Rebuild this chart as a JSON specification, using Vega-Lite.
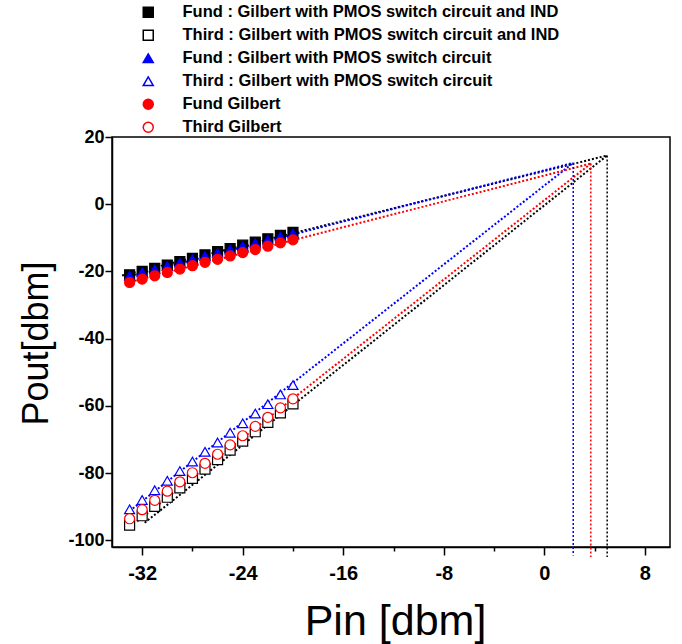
{
  "$schema": "https://vega.github.io/schema/vega-lite/v6.json",
  "width": 558,
  "height": 410,
  "autosize": {"type": "none"},
  "padding": {"left": 112, "top": 137, "right": 12, "bottom": 97},
  "background": "white",
  "config": {
    "view": {"stroke": "#000000", "strokeWidth": 1.5},
    "font": "Liberation Sans"
  },
  "datasets": {
    "names": [
      {"s": "fi", "series": "Fund : Gilbert with PMOS switch circuit and IND"},
      {"s": "ti", "series": "Third : Gilbert with PMOS switch circuit and IND"},
      {"s": "fp", "series": "Fund : Gilbert with PMOS switch circuit"},
      {"s": "tp", "series": "Third : Gilbert with PMOS switch circuit"},
      {"s": "fg", "series": "Fund Gilbert"},
      {"s": "tg", "series": "Third Gilbert"}
    ],
    "pts": [
      {"s":"fi","x":-33,"y":-21.0},{"s":"fi","x":-32,"y":-20.0},{"s":"fi","x":-31,"y":-19.1},{"s":"fi","x":-30,"y":-18.1},{"s":"fi","x":-29,"y":-17.1},{"s":"fi","x":-28,"y":-16.1},{"s":"fi","x":-27,"y":-15.1},{"s":"fi","x":-26,"y":-14.1},{"s":"fi","x":-25,"y":-13.2},{"s":"fi","x":-24,"y":-12.2},{"s":"fi","x":-23,"y":-11.3},{"s":"fi","x":-22,"y":-10.3},{"s":"fi","x":-21,"y":-9.3},{"s":"fi","x":-20,"y":-8.4},
      {"s":"ti","x":-33,"y":-95.5},{"s":"ti","x":-32,"y":-92.7},{"s":"ti","x":-31,"y":-89.9},{"s":"ti","x":-30,"y":-87.2},{"s":"ti","x":-29,"y":-84.4},{"s":"ti","x":-28,"y":-81.6},{"s":"ti","x":-27,"y":-78.8},{"s":"ti","x":-26,"y":-76.0},{"s":"ti","x":-25,"y":-73.2},{"s":"ti","x":-24,"y":-70.5},{"s":"ti","x":-23,"y":-67.7},{"s":"ti","x":-22,"y":-64.9},{"s":"ti","x":-21,"y":-62.1},{"s":"ti","x":-20,"y":-59.4},
      {"s":"fp","x":-33,"y":-21.3},{"s":"fp","x":-32,"y":-20.3},{"s":"fp","x":-31,"y":-19.4},{"s":"fp","x":-30,"y":-18.4},{"s":"fp","x":-29,"y":-17.4},{"s":"fp","x":-28,"y":-16.4},{"s":"fp","x":-27,"y":-15.4},{"s":"fp","x":-26,"y":-14.5},{"s":"fp","x":-25,"y":-13.5},{"s":"fp","x":-24,"y":-12.5},{"s":"fp","x":-23,"y":-11.6},{"s":"fp","x":-22,"y":-10.6},{"s":"fp","x":-21,"y":-9.6},{"s":"fp","x":-20,"y":-8.7},
      {"s":"tp","x":-33,"y":-90.8},{"s":"tp","x":-32,"y":-88.0},{"s":"tp","x":-31,"y":-85.1},{"s":"tp","x":-30,"y":-82.3},{"s":"tp","x":-29,"y":-79.4},{"s":"tp","x":-28,"y":-76.6},{"s":"tp","x":-27,"y":-73.7},{"s":"tp","x":-26,"y":-70.9},{"s":"tp","x":-25,"y":-68.0},{"s":"tp","x":-24,"y":-65.2},{"s":"tp","x":-23,"y":-62.3},{"s":"tp","x":-22,"y":-59.5},{"s":"tp","x":-21,"y":-56.6},{"s":"tp","x":-20,"y":-53.8},
      {"s":"fg","x":-33,"y":-23.3},{"s":"fg","x":-32,"y":-22.3},{"s":"fg","x":-31,"y":-21.3},{"s":"fg","x":-30,"y":-20.3},{"s":"fg","x":-29,"y":-19.3},{"s":"fg","x":-28,"y":-18.3},{"s":"fg","x":-27,"y":-17.3},{"s":"fg","x":-26,"y":-16.4},{"s":"fg","x":-25,"y":-15.4},{"s":"fg","x":-24,"y":-14.4},{"s":"fg","x":-23,"y":-13.5},{"s":"fg","x":-22,"y":-12.5},{"s":"fg","x":-21,"y":-11.5},{"s":"fg","x":-20,"y":-10.6},
      {"s":"tg","x":-33,"y":-93.6},{"s":"tg","x":-32,"y":-90.9},{"s":"tg","x":-31,"y":-88.1},{"s":"tg","x":-30,"y":-85.4},{"s":"tg","x":-29,"y":-82.6},{"s":"tg","x":-28,"y":-79.9},{"s":"tg","x":-27,"y":-77.1},{"s":"tg","x":-26,"y":-74.4},{"s":"tg","x":-25,"y":-71.6},{"s":"tg","x":-24,"y":-68.9},{"s":"tg","x":-23,"y":-66.1},{"s":"tg","x":-22,"y":-63.4},{"s":"tg","x":-21,"y":-60.6},{"s":"tg","x":-20,"y":-57.9}
    ],
    "fits": [
      {"seg":"fi","circuit":"IND","x":-33.6,"y":-21.2},{"seg":"fi","circuit":"IND","x":5.0,"y":14.5},
      {"seg":"ti","circuit":"IND","x":-31.8,"y":-94.8},{"seg":"ti","circuit":"IND","x":5.0,"y":14.5},
      {"seg":"fp","circuit":"PMOS","x":-33.2,"y":-21.6},{"seg":"fp","circuit":"PMOS","x":2.3,"y":12.3},
      {"seg":"tp","circuit":"PMOS","x":-33.0,"y":-91.3},{"seg":"tp","circuit":"PMOS","x":2.3,"y":12.3},
      {"seg":"fg","circuit":"Gilbert","x":-33.2,"y":-23.4},{"seg":"fg","circuit":"Gilbert","x":3.7,"y":12.1},
      {"seg":"tg","circuit":"Gilbert","x":-32.4,"y":-94.4},{"seg":"tg","circuit":"Gilbert","x":3.7,"y":12.1}
    ],
    "drops": [
      {"circuit":"IND","x":5.0,"ytop":14.5,"ybot":-105},
      {"circuit":"PMOS","x":2.3,"ytop":12.3,"ybot":-104.5},
      {"circuit":"Gilbert","x":3.7,"ytop":12.1,"ybot":-105}
    ]
  },
  "layer": [
    {
      "data": {"name": "fits"},
      "mark": {"type": "line", "strokeDash": [2, 2], "strokeWidth": 2},
      "encoding": {
        "x": {
          "field": "x", "type": "quantitative",
          "scale": {"domain": [-34.4, 10], "nice": false, "zero": false},
          "axis": {
            "title": "Pin [dbm]",
            "values": [-32, -28, -24, -20, -16, -12, -8, -4, 0, 4, 8],
            "labelExpr": "datum.value % 8 === 0 ? '' + datum.value : ''",
            "grid": false,
            "domainColor": "#000000", "domainWidth": 1.5,
            "tickColor": "#000000", "tickWidth": 1.5,
            "tickSize": {"condition": {"test": "datum.value % 8 !== 0", "value": 4}, "value": 8},
            "labelFont": "Liberation Sans", "labelFontWeight": "bold", "labelFontSize": 20, "labelColor": "#000000",
            "labelPadding": 8, "labelFlush": false, "labelOverlap": false,
            "titleFont": "Liberation Sans", "titleFontSize": 43, "titleFontWeight": "normal", "titleColor": "#000000",
            "titleY": 74, "titleX": 283, "titleBaseline": "middle"
          }
        },
        "y": {
          "field": "y", "type": "quantitative",
          "scale": {"domain": [-102, 20], "nice": false, "zero": false},
          "axis": {
            "title": "Pout[dbm]",
            "values": [-100, -90, -80, -70, -60, -50, -40, -30, -20, -10, 0, 10, 20],
            "labelExpr": "datum.value % 20 === 0 ? '' + datum.value : ''",
            "grid": false,
            "domainColor": "#000000", "domainWidth": 1.5,
            "tickColor": "#000000", "tickWidth": 1.5,
            "tickSize": {"condition": {"test": "datum.value % 20 !== 0", "value": 4}, "value": 7},
            "labelFont": "Liberation Sans", "labelFontWeight": "bold", "labelFontSize": 18, "labelColor": "#000000",
            "labelPadding": 1, "labelFlush": false, "labelOverlap": false,
            "titleFont": "Liberation Sans", "titleFontSize": 36, "titleFontWeight": "normal", "titleColor": "#000000",
            "titleX": -76, "titleY": 206, "titleAngle": -90, "titleBaseline": "middle", "titleAlign": "center"
          }
        },
        "color": {
          "field": "circuit", "type": "nominal",
          "scale": {"domain": ["IND", "PMOS", "Gilbert"], "range": ["#000000", "#0000ff", "#ff0000"]},
          "legend": null
        },
        "detail": {"field": "seg"}
      }
    },
    {
      "data": {"name": "drops"},
      "mark": {"type": "rule", "strokeDash": [2, 2], "strokeWidth": 1.5},
      "encoding": {
        "x": {"field": "x", "type": "quantitative"},
        "y": {"field": "ytop", "type": "quantitative"},
        "y2": {"field": "ybot"},
        "color": {"field": "circuit", "type": "nominal", "legend": null}
      }
    },
    {
      "data": {"name": "pts"},
      "transform": [{"lookup": "s", "from": {"data": {"name": "names"}, "key": "s", "fields": ["series"]}}],
      "mark": {"type": "point", "strokeWidth": 1.2, "opacity": 1},
      "encoding": {
        "x": {"field": "x", "type": "quantitative"},
        "y": {"field": "y", "type": "quantitative"},
        "fill": {
          "field": "series", "type": "nominal",
          "scale": {
            "domain": ["Fund : Gilbert with PMOS switch circuit and IND", "Third : Gilbert with PMOS switch circuit and IND", "Fund : Gilbert with PMOS switch circuit", "Third : Gilbert with PMOS switch circuit", "Fund Gilbert", "Third Gilbert"],
            "range": ["#000000", "#ffffff", "#0000ff", "#ffffff", "#ff0000", "#ffffff"]
          },
          "legend": {
            "title": null, "orient": "none", "legendX": 28, "legendY": -133, "direction": "vertical",
            "labelFont": "Liberation Sans", "labelFontSize": 16.5, "labelFontWeight": "bold", "labelColor": "#000000",
            "labelLimit": 600, "labelOffset": 26, "rowPadding": 6, "symbolStrokeWidth": 1.5,
            "encode": {"symbols": {
              "size": {"value": 100},
              "shape": {"value": {"expr": "indexof(datum.value, 'IND') >= 0 ? 'M-3.8,0H-0.9M0.9,0H3.8M-0.9,-0.9H0.9V0.9H-0.9Z' : (indexof(datum.value, 'PMOS') >= 0 ? 'M-3.8,0H-0.65M0.65,0H3.8M0,-1.1L1.1,0.9L-1.1,0.9Z' : 'M-3.8,0H-1M1,0H3.8M-1,0A1,1 0 1,0 1,0A1,1 0 1,0 -1,0Z')"}}
            }}
          }
        },
        "shape": {
          "field": "series", "type": "nominal",
          "scale": {
            "domain": ["Fund : Gilbert with PMOS switch circuit and IND", "Third : Gilbert with PMOS switch circuit and IND", "Fund : Gilbert with PMOS switch circuit", "Third : Gilbert with PMOS switch circuit", "Fund Gilbert", "Third Gilbert"],
            "range": ["square", "square", "triangle-up", "triangle-up", "circle", "circle"]
          },
          "legend": {
            "title": null, "orient": "none", "legendX": 28, "legendY": -133, "direction": "vertical",
            "labelFont": "Liberation Sans", "labelFontSize": 16.5, "labelFontWeight": "bold", "labelColor": "#000000",
            "labelLimit": 600, "labelOffset": 26, "rowPadding": 6, "symbolStrokeWidth": 1.5,
            "encode": {"symbols": {
              "size": {"value": 100},
              "shape": {"value": {"expr": "indexof(datum.value, 'IND') >= 0 ? 'M-3.8,0H-0.9M0.9,0H3.8M-0.9,-0.9H0.9V0.9H-0.9Z' : (indexof(datum.value, 'PMOS') >= 0 ? 'M-3.8,0H-0.65M0.65,0H3.8M0,-1.1L1.1,0.9L-1.1,0.9Z' : 'M-3.8,0H-1M1,0H3.8M-1,0A1,1 0 1,0 1,0A1,1 0 1,0 -1,0Z')"}}
            }}
          }
        },
        "stroke": {
          "field": "series", "type": "nominal",
          "scale": {
            "domain": ["Fund : Gilbert with PMOS switch circuit and IND", "Third : Gilbert with PMOS switch circuit and IND", "Fund : Gilbert with PMOS switch circuit", "Third : Gilbert with PMOS switch circuit", "Fund Gilbert", "Third Gilbert"],
            "range": ["#000000", "#000000", "#0000ff", "#0000ff", "#ff0000", "#ff0000"]
          },
          "legend": {
            "title": null, "orient": "none", "legendX": 28, "legendY": -133, "direction": "vertical",
            "labelFont": "Liberation Sans", "labelFontSize": 16.5, "labelFontWeight": "bold", "labelColor": "#000000",
            "labelLimit": 600, "labelOffset": 26, "rowPadding": 6, "symbolStrokeWidth": 1.5,
            "encode": {"symbols": {
              "size": {"value": 100},
              "shape": {"value": {"expr": "indexof(datum.value, 'IND') >= 0 ? 'M-3.8,0H-0.9M0.9,0H3.8M-0.9,-0.9H0.9V0.9H-0.9Z' : (indexof(datum.value, 'PMOS') >= 0 ? 'M-3.8,0H-0.65M0.65,0H3.8M0,-1.1L1.1,0.9L-1.1,0.9Z' : 'M-3.8,0H-1M1,0H3.8M-1,0A1,1 0 1,0 1,0A1,1 0 1,0 -1,0Z')"}}
            }}
          }
        },
        "size": {
          "field": "series", "type": "ordinal",
          "scale": {
            "domain": ["Fund : Gilbert with PMOS switch circuit and IND", "Third : Gilbert with PMOS switch circuit and IND", "Fund : Gilbert with PMOS switch circuit", "Third : Gilbert with PMOS switch circuit", "Fund Gilbert", "Third Gilbert"],
            "range": [100, 100, 170, 180, 170, 160]
          },
          "legend": {
            "title": null, "orient": "none", "legendX": 28, "legendY": -133, "direction": "vertical",
            "labelFont": "Liberation Sans", "labelFontSize": 16.5, "labelFontWeight": "bold", "labelColor": "#000000",
            "labelLimit": 600, "labelOffset": 26, "rowPadding": 6, "symbolStrokeWidth": 1.5,
            "encode": {"symbols": {
              "size": {"value": 100},
              "shape": {"value": {"expr": "indexof(datum.value, 'IND') >= 0 ? 'M-3.8,0H-0.9M0.9,0H3.8M-0.9,-0.9H0.9V0.9H-0.9Z' : (indexof(datum.value, 'PMOS') >= 0 ? 'M-3.8,0H-0.65M0.65,0H3.8M0,-1.1L1.1,0.9L-1.1,0.9Z' : 'M-3.8,0H-1M1,0H3.8M-1,0A1,1 0 1,0 1,0A1,1 0 1,0 -1,0Z')"}}
            }}
          }
        }
      }
    }
  ]
}
